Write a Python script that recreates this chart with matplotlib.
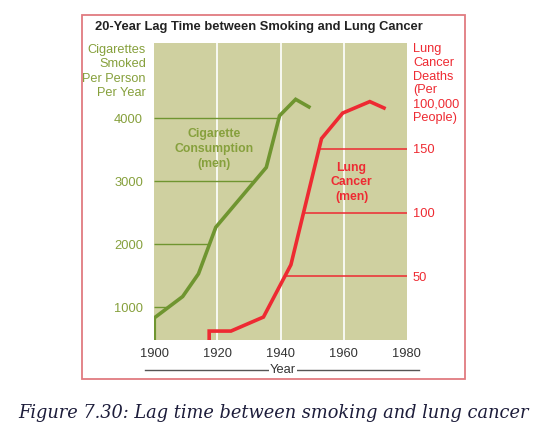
import numpy as np
import matplotlib
matplotlib.use('Agg')
import matplotlib.pyplot as plt
from matplotlib.patches import Rectangle
from matplotlib.lines import Line2D

plt.rcParams['font.family'] = ['Liberation Sans', 'DejaVu Sans']

# cigarette consumption (men), cigarettes per person per year
cig_years = [1900, 1900, 1909, 1914, 1919.5, 1935.5, 1939.7, 1944.8, 1949]
cig_values = [0, 830, 1170, 1530, 2270, 3220, 4040, 4300, 4180]

# lung cancer deaths (men), per 100,000 people
lc_years = [1917.4, 1917.4, 1924.3, 1934.6, 1943.3, 1953, 1959.7, 1968.3, 1972.8]
lc_values = [-5, 7, 7, 18, 59, 158, 178, 187, 182]

year_ticks = [1900, 1920, 1940, 1960, 1980]
cig_ticks = [1000, 2000, 3000, 4000]
lc_ticks = [50, 100, 150]

green = '#6f9530'
green_txt = '#86a03c'
red = '#ee2a32'
bg = '#cfd0a0'

fig = plt.figure(figsize=(5.5, 4.33), dpi=100)
ax = fig.add_axes([0.2805, 0.2148, 0.459, 0.686])
ax2 = ax.twinx()

ax.set_facecolor(bg)
ax.set_xlim(1900, 1980)
ax.set_ylim(480, 5195)
ax2.set_ylim(0, 233)

for yr in year_ticks[1:-1]:
    ax.axvline(yr, color='white', lw=1.2, zorder=1)

# green guide lines from left edge to the curve
peak = int(np.argmax(cig_values))
for lev in cig_ticks:
    x_end = np.interp(lev, cig_values[1:peak + 1], cig_years[1:peak + 1])
    ax.hlines(lev, 1900, x_end, color=green, lw=1.0, zorder=2)
ax.plot(cig_years, cig_values, color=green, lw=2.6, zorder=3, solid_joinstyle='miter')

# red guide lines from the curve to the right edge
peak2 = int(np.argmax(lc_values))
for lev in lc_ticks:
    x_start = np.interp(lev, lc_values[1:peak2 + 1], lc_years[1:peak2 + 1])
    ax2.hlines(lev, x_start, 1980, color=red, lw=1.1, zorder=2)
ax2.plot(lc_years, lc_values, color=red, lw=2.6, zorder=3, solid_joinstyle='miter')

for a in (ax, ax2):
    for s in a.spines.values():
        s.set_visible(False)

ax.set_xticks(year_ticks)
ax.tick_params(axis='x', length=0, pad=6, labelsize=9.3, labelcolor='#333333')
ax.set_yticks(cig_ticks)
ax.tick_params(axis='y', length=0, pad=8, labelsize=9.3, labelcolor=green_txt)
ax2.set_yticks(lc_ticks)
ax2.tick_params(axis='y', length=0, pad=4.3, labelsize=9.3, labelcolor=red)

ax.text(1919, 3510, 'Cigarette\nConsumption\n(men)', color=green_txt, fontsize=8.8,
        fontweight='bold', ha='center', va='center', linespacing=1.3)
ax.text(1962.5, 2980, 'Lung\nCancer\n(men)', color=red, fontsize=8.8,
        fontweight='bold', ha='center', va='center', linespacing=1.3)

fig.text(95 / 550, 1 - 27 / 433, '20-Year Lag Time between Smoking and Lung Cancer',
         fontsize=9.3, fontweight='bold', color='#222222', ha='left', va='center')
fig.text(146 / 550, 1 - 44 / 433, 'Cigarettes\nSmoked\nPer Person\nPer Year',
         fontsize=9.2, color=green_txt, ha='right', va='top', linespacing=1.25)
fig.text(413 / 550, 1 - 43 / 433, 'Lung\nCancer\nDeaths\n(Per\n100,000\nPeople)',
         fontsize=9.2, color=red, ha='left', va='top', linespacing=1.2)

# year label with rule
fig.add_artist(Line2D([145 / 550, 419 / 550], [1 - 370 / 433] * 2, color='#555555', lw=1))
fig.text(283 / 550, 1 - 370 / 433, 'Year', fontsize=9.3, color='#333333', ha='center',
         va='center', bbox=dict(facecolor='white', edgecolor='none', pad=0.5))

# frame
fig.add_artist(Rectangle((81.5 / 550, 1 - 379 / 433), 383 / 550, 364.5 / 433,
                         fill=False, edgecolor='#e07b80', lw=1.3, transform=fig.transFigure))

fig.text(274 / 550, 1 - 413 / 433, 'Figure 7.30: Lag time between smoking and lung cancer',
         family='DejaVu Serif', style='italic', fontsize=12.8, color='#1c1c3a',
         ha='center', va='center')

fig.savefig('out.png', dpi=100)
